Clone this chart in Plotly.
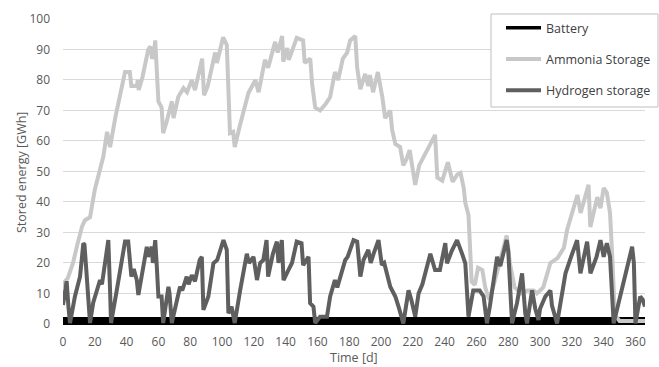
import plotly.graph_objects as go

# ---------------- data ----------------
ammonia_days = [0, 1.3, 3, 6.3, 9, 12, 13.8, 17, 20, 22.2, 25.4, 27.7, 29.6, 33, 38, 39, 42, 43, 46.5, 47,
                47.6, 50, 53.6, 55, 56, 57, 58, 59, 60, 62, 63, 65, 68.5, 69.5, 72.5, 75.8, 78, 81, 83, 87.5,
                88.7, 91, 95.7, 96.8, 100.7, 103, 104, 105, 107, 108, 111, 116.6, 121, 123, 127, 129, 133.4,
                135, 137.8, 138.5, 141, 142, 147, 151, 152, 155.5, 156.6, 157.3, 158.6, 161.7, 165, 168, 171,
                173, 176, 178.7, 180.6, 183.8, 185, 187, 190, 192, 193, 195, 198, 200.8, 202.6, 205.8, 207,
                209, 212, 214, 216, 218, 220, 221.5, 224, 227.8, 231, 234, 235.4, 238.5, 242, 245, 248, 250,
                252, 253, 255, 256, 257, 259, 261, 263.7, 265.6, 268, 271, 275, 279, 281, 284, 288, 292, 296,
                298, 302, 306.5, 311, 315, 317, 323.5, 325.5, 330.5, 331.6, 336, 338, 340, 342, 344, 345.5,
                347, 350, 366]
ammonia_gwh = [12, 14, 15, 20, 26, 32, 34, 35, 44, 49, 55, 63, 58, 68, 81, 82.6, 82.6, 78, 78, 80,
               76.7, 81, 90, 91, 87, 88, 93, 84, 73, 71, 62.6, 66, 73, 67.5, 74.5, 77.3, 76, 80, 76.7, 87,
               75, 78, 89, 85.6, 94, 91.5, 77, 62.6, 63, 58, 64.6, 75.7, 80, 76, 86.6, 84, 92.5,
               89, 94.4, 86, 90.5, 86.6, 93.8, 93, 85.6, 87, 79, 75, 71, 70, 72, 74.4, 82.6,
               80, 87, 89, 93, 94.4, 84, 77, 82, 78, 81.6, 76, 82.6, 74.4, 67.5, 70, 63.6,
               59, 58, 52, 54, 57, 50.5, 45.6, 52, 56, 59, 62, 48, 47, 53, 46.6, 49, 49.5,
               44.6, 39.7, 35.7, 25, 13.8, 12.8, 18.4, 17.7, 11.8, 8, 13, 21, 29, 20, 12, 10, 11, 11,
               10, 12, 20, 21.6, 25, 30.8, 42.3, 36.4, 45.6, 31.8, 41.6, 38, 44.6, 43, 36.4, 21,
               3, 1, 1]

hydrogen_days = [0, 1.3, 2.3, 3.4, 4.4, 7.5, 10.7, 12.8, 13.5, 14.5, 16, 17, 19, 23.3, 24.5, 28.5, 29.6,
                 30.2, 33.8, 35.9, 39, 41, 42, 43, 44.5, 46.4, 47.4, 49, 52.7, 53.5, 55.8, 56.5, 58, 59, 60,
                 62, 63, 66.3, 67, 68.4, 70.5, 73.6, 75, 77.8, 79, 81, 83, 86, 87.3, 88.3, 91.4, 94.6, 97,
                 100.9, 103, 104, 106, 108, 111.4, 115.6, 117, 119.8, 122, 124, 126, 128, 129, 132, 134.5,
                 135.5, 137.6, 138.7, 141.8, 144, 147, 150, 151, 154.4, 155.4, 157.5, 158.6, 161.7, 166,
                 168, 171, 172.5, 177.5, 179, 182.7, 185, 187, 189, 192, 193.5, 195.3, 198.4, 200.5, 202,
                 205.8, 209, 211, 214, 217.3, 219, 221.5, 223.6, 226, 231, 234, 237, 240.4, 241.5, 244.5,
                 247.8, 251, 253, 255, 258, 262, 264.5, 266.6, 268.5, 273, 275, 279, 280, 282.4, 285.5,
                 288.7, 289.5, 290.7, 291.8, 295, 297, 299, 300, 303.3, 306.5, 307.5, 310.7, 313.8, 316,
                 319.5, 323.3, 325.4, 329.6, 331.7, 335.5, 338, 340, 342, 344, 346.3, 350.5, 354.7, 357.9,
                 359, 360, 363, 364.5, 366]
hydrogen_gwh = [6.2, 11, 14, 5.7, 0.3, 9, 15.5, 26.5, 26, 18.8, 5.7, 0.3, 7, 14.4, 13, 27.5, 11,
                0.3, 11, 17.7, 27, 27, 22, 15.5, 18, 14.4, 9.5, 14, 25.3, 22, 25.3, 20, 27.5, 18.8, 9,
                9, 0.3, 12.2, 10, 0.3, 5.7, 12.2, 11, 15.5, 13, 16, 14, 21, 22, 4.6, 9, 19.9, 21,
                27.5, 24.3, 3.5, 5.7, 0.3, 11, 23, 20, 22, 14.4, 20, 21, 27.5, 15.5, 23, 27,
                20, 27.5, 14.4, 17.7, 20, 27, 26.5, 19.3, 22, 6.8, 5.7, 0.3, 2.4, 2.4,
                9, 14.4, 12, 21, 22, 27.5, 27, 15.5, 21, 24.3, 20, 23, 27.5, 19.3, 20,
                12.2, 9, 5.7, 0.2, 11, 8, 2.4, 10, 13, 23, 17.7, 17.7, 26.5, 19.9, 24,
                27.5, 23, 19.9, 2.4, 11, 11, 9, 0.2, 6, 22, 19, 27.5, 24, 0.2, 6.8,
                16.6, 11, 3.5, 0.2, 11, 5, 1.3, 5, 9, 11, 6, 0.2, 9, 16.6,
                22, 27.5, 16.6, 27, 16.6, 22, 27.5, 22, 26.5, 22, 0.2, 9, 18.8, 25.3,
                20, 0.2, 9, 8, 5.7]

battery_days = [0, 60, 120, 180, 240, 300, 366]
battery_gwh = [1, 1, 1, 1, 1, 1, 1]

x_ticks = list(range(0, 361, 20))
y_ticks = list(range(0, 101, 10))

# ---------------- figure ----------------
FONT = "Open Sans"
TXT = "#595959"
C_BAT, C_NH3, C_H2 = "#000000", "#c8c8c8", "#5f5f5f"

fig = go.Figure()
# data traces (battery drawn as a thick band, legend handled by thin-line entries)
fig.add_trace(go.Scatter(x=battery_days, y=battery_gwh, mode="lines", name="Battery",
                         showlegend=False, line=dict(color=C_BAT, width=8)))
fig.add_trace(go.Scatter(x=[None], y=[None], mode="lines", name="Battery",
                         legendgroup="a", line=dict(color=C_BAT, width=3.5)))
fig.add_trace(go.Scatter(x=ammonia_days, y=ammonia_gwh, mode="lines", name="Ammonia Storage",
                         legendgroup="b", line=dict(color=C_NH3, width=4)))
fig.add_trace(go.Scatter(x=hydrogen_days, y=hydrogen_gwh, mode="lines", name="Hydrogen storage",
                         legendgroup="c", line=dict(color=C_H2, width=4)))

fig.update_layout(
    width=659, height=367,
    margin=dict(l=63, r=14, t=19, b=40, autoexpand=False),
    paper_bgcolor="white", plot_bgcolor="white",
    font=dict(family=FONT, size=12, color=TXT),
    showlegend=True,
    legend=dict(x=(501 - 63) / 582, y=(327 - 13) / 308, xanchor="left", yanchor="top",
                bgcolor="rgba(0,0,0,0)", borderwidth=0,
                font=dict(family=FONT, size=12.5, color="#404040"),
                tracegroupgap=12, itemwidth=35),
    xaxis=dict(range=[0, 366], tickmode="array", tickvals=x_ticks, showgrid=False,
               zeroline=False, showline=False, ticks="", ticklabelstandoff=6,
               tickfont=dict(family=FONT, size=12, color=TXT)),
    yaxis=dict(range=[-1, 100], tickmode="array", tickvals=y_ticks, showgrid=True,
               gridcolor="#d9d9d9", gridwidth=1, zeroline=False, showline=False, ticks="",
               ticklabelstandoff=12, tickfont=dict(family=FONT, size=12, color=TXT)),
    shapes=[dict(type="rect", xref="paper", yref="paper",
                 x0=(491 - 63) / 582, x1=(658 - 63) / 582,
                 y0=(327 - 107) / 308, y1=(327 - 14) / 308,
                 fillcolor="white", line=dict(color="#bfbfbf", width=1), layer="above")],
    annotations=[
        dict(text="Time [d]", xref="paper", yref="paper", x=0.5, y=(327 - 357) / 308,
             xanchor="center", yanchor="middle", showarrow=False,
             font=dict(family=FONT, size=12.5, color=TXT)),
        dict(text="Stored energy [GWh]", xref="paper", yref="paper", x=(21 - 63) / 582, y=0.5,
             xanchor="center", yanchor="middle", textangle=-90, showarrow=False,
             font=dict(family=FONT, size=12.5, color=TXT)),
    ],
)

fig.write_html("out.html", config={"displayModeBar": False},
               post_script="document.body.style.margin='0';document.body.style.overflow='hidden';")
